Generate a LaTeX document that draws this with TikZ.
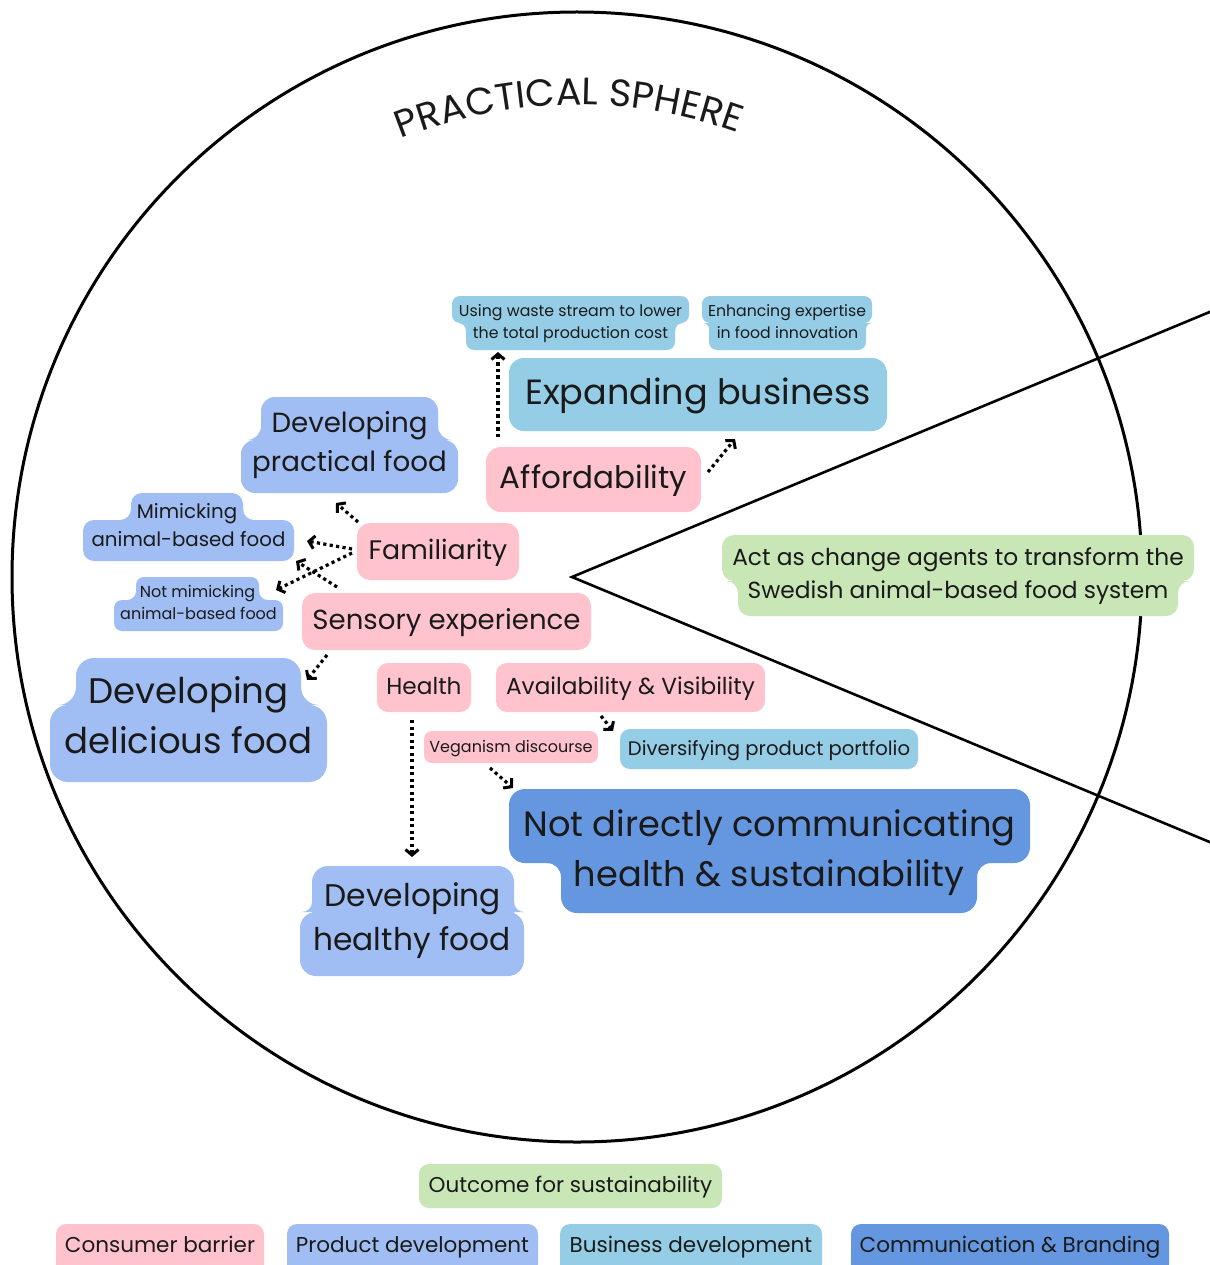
\documentclass[tikz,border=0pt]{standalone}
\usepackage{fontspec}
\setmainfont{Poppins}
\usetikzlibrary{arrows.meta,decorations.text}
\definecolor{cpink}{HTML}{FFC3CE}
\definecolor{cprod}{HTML}{A1BEF4}
\definecolor{cbus}{HTML}{96CDE6}
\definecolor{ccomm}{HTML}{6596E0}
\definecolor{cgreen}{HTML}{C9E6B7}
\definecolor{ink}{HTML}{1A1A1A}
\newcommand{\fs}[1]{\fontsize{#1}{#1}\selectfont}
% concave fillet: colour, corner x, corner y, dir x, dir y, radius
\newcommand{\fillet}[6]{%
  \fill[#1] ({#2},{#3+(#5)*(#6)}) -- ({#2},{#3}) -- ({#2+(#4)*(#6)},{#3})
    .. controls ({#2+(#4)*(#6)*0.4477},{#3}) and ({#2},{#3+(#5)*(#6)*0.4477}) ..
    ({#2},{#3+(#5)*(#6)}) -- cycle;}
\begin{document}
\begin{tikzpicture}[x=1pt,y=-1pt,
  box/.style={rectangle, rounded corners=#1, inner sep=0pt},
  box/.default=10pt,
  txt/.style={inner sep=0pt, text=ink, anchor=base},
  arr/.style={draw=black, line width=3.2pt, dash pattern=on 3.2pt off 3.3pt,
    -{Straight Barb[length=5.5pt,width=13pt,line width=3pt]}},
  frame/.style={draw=black, line width=3pt}
]
\useasboundingbox (0,0) rectangle (1209,1265);
\fill[white] (0,0) rectangle (1209,1265);

% sphere and wedge
\draw[frame] (577,577) circle[radius=565];
\coordinate (apex) at (572,577);
\coordinate (wtop) at (1212,311);
\coordinate (wbot) at (1212,843);
\draw[line width=2.6pt, line join=miter] (wtop) -- (apex) -- (wbot);

% title
\path[decorate, decoration={text along path, text align=center,
  text={|\fs{38}\color{ink}|PRACTICAL SPHERE}}]
  (577,577) ++(-130:472) arc[start angle=-130, end angle=-52, radius=472];

% ================= boxes =================
% Using waste stream (bottom narrower)
\node[box=8pt, fill=cbus, minimum width=209pt, minimum height=40pt] (waste2) at (570.5,330) {};
\node[box=8pt, fill=cbus, minimum width=237pt, minimum height=27pt] (waste1) at (570.5,309.5) {};
\fillet{cbus}{466}{323}{-1}{1}{8}\fillet{cbus}{675}{323}{1}{1}{8}
% Enhancing expertise
\node[box=8pt, fill=cbus, minimum width=157pt, minimum height=40pt] (exp2) at (787.5,330) {};
\node[box=8pt, fill=cbus, minimum width=170pt, minimum height=27pt] (exp1) at (787,309.5) {};
\fillet{cbus}{709}{323}{-1}{1}{6}\fillet{cbus}{866}{323}{1}{1}{6}
% Expanding business
\node[box=15pt, fill=cbus, minimum width=378pt, minimum height=73pt] (expand) at (698,394.5) {};
% Affordability
\node[box=15pt, fill=cpink, minimum width=215pt, minimum height=65pt] (afford) at (593.5,479.5) {};
% Developing practical food (top narrower)
\node[box=14pt, fill=cprod, minimum width=217pt, minimum height=53pt] (prac2) at (349.5,466.5) {};
\node[box=14pt, fill=cprod, minimum width=177pt, minimum height=58pt] (prac1) at (349.5,426) {};
\fillet{cprod}{261}{440}{-1}{-1}{14}\fillet{cprod}{438}{440}{1}{-1}{14}
% Mimicking
\node[box=11pt, fill=cprod, minimum width=211pt, minimum height=41pt] (mim2) at (188.5,540.5) {};
\node[box=11pt, fill=cprod, minimum width=112pt, minimum height=42pt] (mim1) at (187,514) {};
\fillet{cprod}{131}{520}{-1}{-1}{11}\fillet{cprod}{243}{520}{1}{-1}{11}
% Familiarity
\node[box=13pt, fill=cpink, minimum width=162pt, minimum height=57pt] (fam) at (438,551.5) {};
% Not mimicking
\node[box=8pt, fill=cprod, minimum width=169pt, minimum height=31pt] (nmim2) at (198.5,615.5) {};
\node[box=8pt, fill=cprod, minimum width=123pt, minimum height=37pt] (nmim1) at (197.5,595.5) {};
\fillet{cprod}{136}{600}{-1}{-1}{9}\fillet{cprod}{259}{600}{1}{-1}{9}
% Sensory experience
\node[box=13pt, fill=cpink, minimum width=289pt, minimum height=57pt] (sens) at (446.5,621.5) {};
% Developing delicious food
\node[box=18pt, fill=cprod, minimum width=277pt, minimum height=77pt] (del2) at (188.5,743.5) {};
\node[box=18pt, fill=cprod, minimum width=225pt, minimum height=67pt] (del1) at (188.5,691.5) {};
\fillet{cprod}{76}{705}{-1}{-1}{18}\fillet{cprod}{301}{705}{1}{-1}{18}
% Health, Availability
\node[box=11pt, fill=cpink, minimum width=94pt, minimum height=49pt] (health) at (424,687.5) {};
\node[box=11pt, fill=cpink, minimum width=269pt, minimum height=49pt] (avail) at (630.5,687.5) {};
% Veganism discourse
\node[box=8pt, fill=cpink, minimum width=174pt, minimum height=32pt] (vegan) at (511,747) {};
% Diversifying product portfolio
\node[box=10pt, fill=cbus, minimum width=298pt, minimum height=40pt] (div) at (769,749) {};
% Not directly communicating (bottom narrower)
\node[box=16pt, fill=ccomm, minimum width=416pt, minimum height=83pt] (not2) at (769,871.5) {};
\node[box=16pt, fill=ccomm, minimum width=521pt, minimum height=74pt] (not1) at (769.5,826) {};
\fillet{ccomm}{561}{863}{-1}{1}{14}\fillet{ccomm}{977}{863}{1}{1}{14}
% Developing healthy food
\node[box=16pt, fill=cprod, minimum width=224pt, minimum height=64pt] (hf2) at (412,944) {};
\node[box=16pt, fill=cprod, minimum width=202pt, minimum height=64pt] (hf1) at (413,898) {};
\fillet{cprod}{312}{912}{-1}{-1}{10}\fillet{cprod}{514}{912}{1}{-1}{10}
% Act as change agents (bottom narrower)
\node[box=12pt, fill=cgreen, minimum width=440pt, minimum height=56pt] (act2) at (958,588) {};
\node[box=12pt, fill=cgreen, minimum width=472pt, minimum height=46pt] (act1) at (958,558) {};
\fillet{cgreen}{738}{581}{-1}{1}{12}\fillet{cgreen}{1178}{581}{1}{1}{12}

% legend boxes
\node[box=10pt, fill=cgreen, minimum width=303pt, minimum height=44pt] (lout) at (570.5,1186) {};
\node[box=10pt, fill=cpink, minimum width=208pt, minimum height=50pt] (lcb) at (160,1249) {};
\node[box=10pt, fill=cprod, minimum width=251pt, minimum height=50pt] (lpd) at (412.5,1249) {};
\node[box=10pt, fill=cbus, minimum width=262pt, minimum height=50pt] (lbd) at (691,1249) {};
\node[box=10pt, fill=ccomm, minimum width=318pt, minimum height=50pt] (lcm) at (1010,1249) {};

% ================= texts =================
\node[txt, font=\fs{15.8}] (waste1t) at (570.5,316) {Using waste stream to lower};
\node[txt, font=\fs{15.8}] (waste2t) at (570.5,338) {the total production cost};
\node[txt, font=\fs{15.7}] (exp1t) at (787,316) {Enhancing expertise};
\node[txt, font=\fs{15.7}] (exp2t) at (787.5,338) {in food innovation};
\node[txt, font=\fs{35}] (expandt) at (698,404) {Expanding business};
\node[txt, font=\fs{31}] (affordt) at (593.5,488) {Affordability};
\node[txt, font=\fs{27.7}] (prac1t) at (349.5,432) {Developing};
\node[txt, font=\fs{27.7}] (prac2t) at (349.5,471) {practical food};
\node[txt, font=\fs{19.8}] (mim1t) at (187,518) {Mimicking};
\node[txt, font=\fs{19.8}] (mim2t) at (188.5,546) {animal-based food};
\node[txt, font=\fs{26.8}] (famt) at (438,559) {Familiarity};
\node[txt, font=\fs{16}] (nmim1t) at (197.5,597) {Not mimicking};
\node[txt, font=\fs{16}] (nmim2t) at (198.5,619) {animal-based food};
\node[txt, font=\fs{27.6}] (senst) at (446.5,629) {Sensory experience};
\node[txt, font=\fs{35.5}] (del1t) at (188.5,703) {Developing};
\node[txt, font=\fs{35.5}] (del2t) at (188.5,753) {delicious food};
\node[txt, font=\fs{23.2}] (healtht) at (424,694) {Health};
\node[txt, font=\fs{23.2}] (availt) at (630.5,694) {Availability \& Visibility};
\node[txt, font=\fs{16}] (vegant) at (511,752) {Veganism discourse};
\node[txt, font=\fs{19.6}] (divt) at (769,755) {Diversifying product portfolio};
\node[txt, font=\fs{35.2}] (not1t) at (769.5,836) {Not directly communicating};
\node[txt, font=\fs{35.2}] (not2t) at (769,886) {health \& sustainability};
\node[txt, font=\fs{31.3}] (hf1t) at (413,906) {Developing};
\node[txt, font=\fs{31.3}] (hf2t) at (412,950) {healthy food};
\node[txt, font=\fs{23.3}] (act1t) at (958,565) {Act as change agents to transform the};
\node[txt, font=\fs{23.3}] (act2t) at (958,598) {Swedish animal-based food system};
\node[txt, font=\fs{21.5}] (loutt) at (570.5,1192) {Outcome for sustainability};
\node[txt, font=\fs{21.5}] (lcbt) at (160,1252) {Consumer barrier};
\node[txt, font=\fs{21.5}] (lpdt) at (412.5,1252) {Product development};
\node[txt, font=\fs{21.5}] (lbdt) at (691,1252) {Business development};
\node[txt, font=\fs{21.5}] (lcmt) at (1010,1252) {Communication \& Branding};

% ================= connectors =================
\coordinate (a1s) at (498,437);  \coordinate (a1e) at (498,352);
\coordinate (a2s) at (708,472);  \coordinate (a2e) at (735,439);
\coordinate (a3s) at (358,522);  \coordinate (a3e) at (336,503);
\coordinate (a4s) at (352,549);  \coordinate (a4e) at (307,541);
\coordinate (a5s) at (352,553);  \coordinate (a5e) at (276,590);
\coordinate (a6s) at (337,587);  \coordinate (a6e) at (296,561);
\coordinate (a7s) at (327,655);  \coordinate (a7e) at (307,680);
\coordinate (a8s) at (412,720);  \coordinate (a8e) at (412,857);
\coordinate (a9s) at (490,768);  \coordinate (a9e) at (513,788);
\coordinate (a10s) at (601,716); \coordinate (a10e) at (613,731);
\draw[arr] (a1s) -- (a1e);
\draw[arr] (a2s) -- (a2e);
\draw[arr] (a3s) -- (a3e);
\draw[arr] (a4s) -- (a4e);
\draw[arr] (a5s) -- (a5e);
\draw[arr] (a6s) -- (a6e);
\draw[arr] (a7s) -- (a7e);
\draw[arr] (a8s) -- (a8e);
\draw[arr] (a9s) -- (a9e);
\draw[arr] (a10s) -- (a10e);
\end{tikzpicture}
\end{document}
